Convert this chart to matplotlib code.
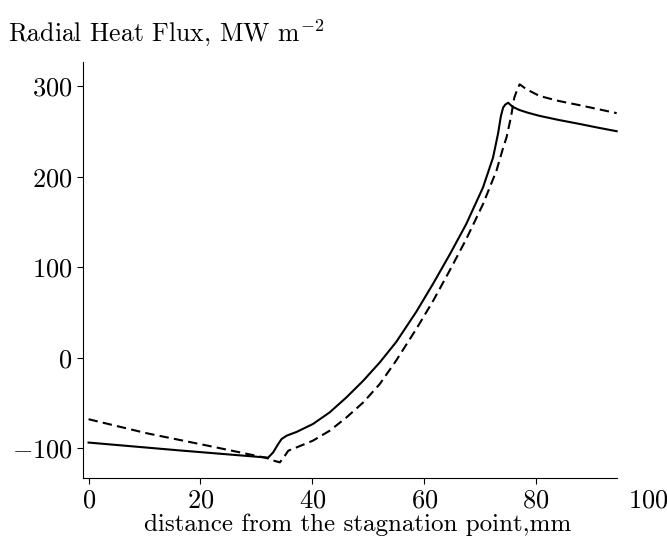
import matplotlib
matplotlib.use("Agg")
import matplotlib.pyplot as plt

plt.rcParams['font.family'] = 'serif'
plt.rcParams['font.serif'] = ['cmr10']
plt.rcParams['mathtext.fontset'] = 'cm'
plt.rcParams['axes.formatter.use_mathtext'] = True

# Solid curve
x_solid = [0, 16.3, 32.1, 33.0, 33.9, 34.5, 35.4, 37.2, 40.1, 43.1, 46.1, 49.1, 52.05,
           55.0, 58.6, 61.6, 64.6, 67.5, 70.5, 72.3, 73.2, 73.7, 74.1, 74.5, 75.0, 75.8,
           77.0, 78.5, 80.6, 84.0, 87.8, 91.0, 94.4]
y_solid = [-93.8, -102.5, -110.5, -104.6, -95.4, -89.9, -86.2, -82.0, -73.3, -60.4, -43.8, -25.4, -5.2,
           17.5, 51.0, 82.0, 114.6, 147.7, 188.2, 221.3, 248.0, 267.0, 276.6, 280.0, 282.0, 277.5,
           274.0, 271.0, 267.5, 263.0, 258.5, 254.5, 250.5]

# Dashed curve
x_dash = [0, 10.4, 22.3, 31.8, 33.2, 34.2, 35.1, 35.7, 37.2, 40.1, 43.1, 46.1, 49.1, 52.05,
          55.0, 58.6, 61.6, 64.6, 67.5, 70.5, 72.9, 74.1, 74.7, 75.5, 76.1, 76.6, 77.05,
          78.25, 80.6, 84.0, 88.0, 91.0, 94.4]
y_dash = [-68.0, -83.5, -98.5, -110.8, -114.0, -115.7, -108.3, -102.8, -99.1, -91.7, -80.7, -66.0, -49.4, -29.1,
          -3.0, 32.0, 63.0, 97.0, 131.0, 169.8, 206.6, 232.0, 243.4, 266.0, 287.6, 296.0, 302.4,
          297.0, 289.5, 284.0, 279.0, 275.0, 270.5]

xticks = [0, 20, 40, 60, 80, 100]
yticks = [-100, 0, 100, 200, 300]

fig = plt.figure(figsize=(6.67, 5.49), dpi=100)
ax = fig.add_axes([0.1244, 0.1293, 0.9715 - 0.1244, 0.887 - 0.1293])

ax.plot(x_solid, y_solid, color='black', lw=1.5, solid_joinstyle='round')
ax.plot(x_dash, y_dash, color='black', lw=1.5, linestyle=(0, (4.5, 2.5)))

ax.set_xlim(-1, 100)
ax.set_ylim(-133, 327)
ax.set_xticks(xticks)
ax.set_yticks(yticks)
ax.spines['top'].set_visible(False)
ax.spines['right'].set_visible(False)
ax.spines['bottom'].set_bounds(-1, 94.4)
ax.xaxis.get_major_ticks()[-1].tick1line.set_visible(False)
ax.tick_params(labelsize=19, length=4, width=0.8)

ax.set_xlabel('distance from the stagnation point,mm', fontsize=18)
ax.xaxis.set_label_coords(0.486, -0.085)
fig.text(0.012, 0.94, 'Radial Heat Flux, MW m$^{-2}$', fontsize=18.5, va='center', ha='left')

fig.savefig('out.png', dpi=100)
